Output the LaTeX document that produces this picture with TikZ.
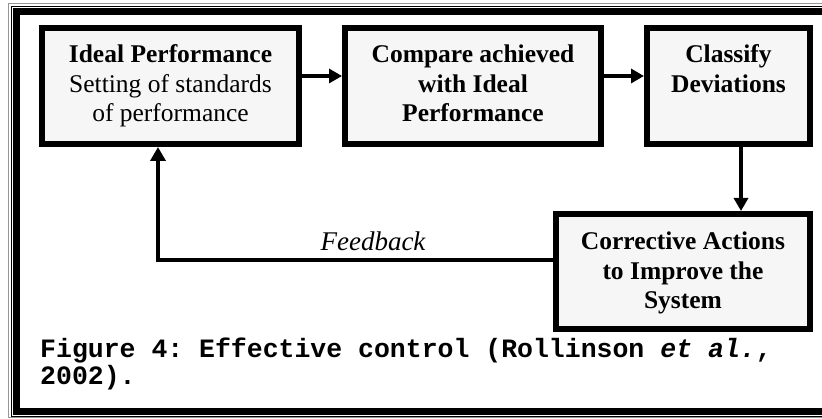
\documentclass[tikz,border=0pt]{standalone}
\usepackage{fontspec}
\setmainfont{Liberation Serif}
\setmonofont{Liberation Mono}
\usetikzlibrary{arrows.meta}
\definecolor{boxfill}{RGB}{246,246,246}
\definecolor{rimgray}{RGB}{150,150,150}
\tikzset{
  stagebox/.style={draw=black, line width=6pt, fill=boxfill, rectangle, inner sep=0pt},
  % multi-line nodes: the base anchor sits on the last line's baseline
  boxtext/.style={anchor=base, align=center, inner sep=0pt,
    font=\fontsize{25.5}{29.5}\selectfont},
  flow/.style={draw=black, line width=3.5pt,
    -{Triangle[length=13pt,width=14pt]}},
  feedline/.style={draw=black, line width=3.5pt,
    -{Triangle[length=14pt,width=15pt]}},
}
\begin{document}
\begin{tikzpicture}[x=1pt, y=-1pt]
\useasboundingbox (0,0) rectangle (822,419);
\fill[white] (0,0) rectangle (822,419);

% page frame: grey hairline, thin black rule, heavy black rule
\draw[rimgray, line width=1pt] (8.5,4) rectangle (840,418);
\draw[black, line width=1.2pt] (11.5,6.5) rectangle (840,416.5);
\draw[black, line width=7pt] (16.5,12) rectangle (840,412);

% stages of the control loop
\node[stagebox, minimum width=257pt, minimum height=116pt] (b1) at (170.5,86) {};
\node[stagebox, minimum width=256pt, minimum height=116pt] (b2) at (473,86) {};
\node[stagebox, minimum width=163pt, minimum height=116pt] (b3) at (728.5,86) {};
\node[stagebox, minimum width=254pt, minimum height=115pt] (b4) at (683,271.5) {};

\node[boxtext] (t1) at (170.5,122) {\textbf{Ideal Performance}\\Setting of standards\\of performance};
\node[boxtext] (t2) at (473,122) {\textbf{Compare achieved}\\\textbf{with Ideal}\\\textbf{Performance}};
\node[boxtext] (t3) at (728.5,92.5) {\textbf{Classify}\\\textbf{Deviations}};
\node[boxtext] (t4) at (683,309) {\textbf{Corrective Actions}\\\textbf{to Improve the}\\\textbf{System}};

% connectors
\draw[flow] ([yshift=10pt]b1.east) -- ([yshift=10pt]b2.west);
\draw[flow] ([yshift=10pt]b2.east) -- ([yshift=10pt]b3.west);
\draw[flow] ([xshift=12.5pt]b3.south) -- ([xshift=12.5pt]b3.south |- b4.north);
\draw[feedline] ([yshift=11.5pt]b4.west) -| ([xshift=-12.5pt]b1.south);

\node[anchor=base, inner sep=0pt, font=\fontsize{27}{30}\selectfont\itshape] (fb) at (373,251) {Feedback};

% caption
\node[anchor=base west, align=left, inner sep=0pt,
      font=\fontsize{26.5}{28}\selectfont\ttfamily\bfseries] (cap) at (40,385)
  {Figure 4: Effective control (Rollinson \textit{et al.},\\2002).};
\end{tikzpicture}
\end{document}
